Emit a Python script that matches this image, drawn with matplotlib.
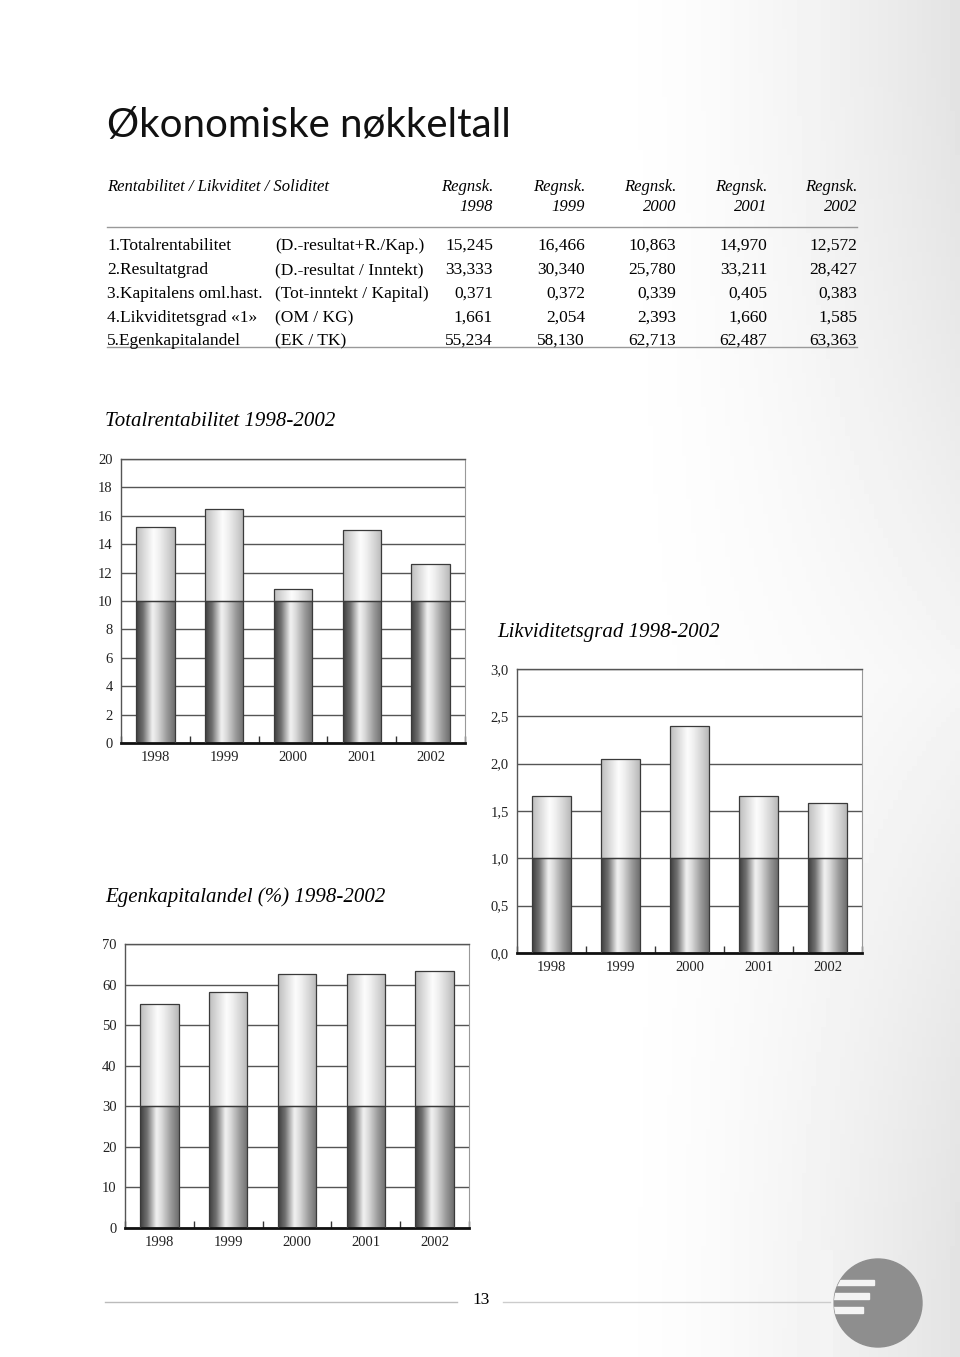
import numpy as np
import matplotlib.pyplot as plt
from matplotlib.colors import LinearSegmentedColormap
from matplotlib.patches import Circle, Rectangle

plt.rcParams['font.family'] = ['Liberation Serif', 'DejaVu Serif']

W, H = 960, 1357

years = ["1998", "1999", "2000", "2001", "2002"]
row_names = ["1.Totalrentabilitet", "2.Resultatgrad", "3.Kapitalens oml.hast.",
             "4.Likviditetsgrad «1»", "5.Egenkapitalandel"]
row_formulas = ["(D.-resultat+R./Kap.)", "(D.-resultat / Inntekt)",
                "(Tot-inntekt / Kapital)", "(OM / KG)", "(EK / TK)"]
totalrent = [15.245, 16.466, 10.863, 14.970, 12.572]
resultatgrad = [33.333, 30.340, 25.780, 33.211, 28.427]
kap_oml = [0.371, 0.372, 0.339, 0.405, 0.383]
likviditet = [1.661, 2.054, 2.393, 1.660, 1.585]
egenkap = [55.234, 58.130, 62.713, 62.487, 63.363]
table_rows = [totalrent, resultatgrad, kap_oml, likviditet, egenkap]

dark_cmap = LinearSegmentedColormap.from_list("dark", [
    (0.0, "#3e3e3e"), (0.18, "#707070"), (0.42, "#f2f2f2"),
    (0.55, "#dcdcdc"), (0.8, "#9a9a9a"), (1.0, "#6e6e6e")])
light_cmap = LinearSegmentedColormap.from_list("light", [
    (0.0, "#bdbdbd"), (0.2, "#dadada"), (0.45, "#fdfdfd"),
    (0.6, "#f0f0f0"), (0.85, "#d0d0d0"), (1.0, "#b8b8b8")])

fig = plt.figure(figsize=(W / 100, H / 100), dpi=100)

# page background / text layer in pixel coordinates
bg = fig.add_axes([0, 0, 1, 1], zorder=-10)
bg.set_xlim(0, W)
bg.set_ylim(H, 0)
bg.axis('off')
gx = np.linspace(0, 1, 200)
gy = np.linspace(0, 1, 280)
fx = np.clip((gx - 0.62) / 0.38, 0, 1) ** 1.6
fy = 0.35 + 0.65 * np.abs(np.cos(gy * np.pi))
shade_bg = 1 - 0.11 * np.outer(fy, fx)
bg.imshow(shade_bg, cmap='gray', vmin=0, vmax=1, extent=[0, W, H, 0], aspect='auto')

bg.text(107, 137, "Økonomiske nøkkeltall", fontsize=29, family=['Lato', 'DejaVu Sans'],
        va='baseline', ha='left', color='#111')

col_x = [493, 585, 676, 767, 857]
bg.text(107, 187, "Rentabilitet / Likviditet / Soliditet", fontsize=12, style='italic',
        va='center', ha='left')
for cx, yr in zip(col_x, years):
    bg.text(cx, 187, "Regnsk.", fontsize=12, style='italic', va='center', ha='right')
    bg.text(cx, 207, yr, fontsize=12, style='italic', va='center', ha='right')
bg.plot([107, 857], [227, 227], color='#999', lw=1)
row_y = [246, 270, 294, 318, 341]
for ry, name, form, vals in zip(row_y, row_names, row_formulas, table_rows):
    bg.text(107, ry, name, fontsize=12.5, va='center', ha='left')
    bg.text(275, ry, form, fontsize=12.5, va='center', ha='left')
    for cx, v in zip(col_x, vals):
        bg.text(cx, ry, f"{v:.3f}".replace(".", ","), fontsize=12.5, va='center', ha='right')
bg.plot([107, 857], [347, 347], color='#999', lw=1)

bg.text(105, 421, "Totalrentabilitet 1998-2002", fontsize=15, style='italic', va='center')
bg.text(497, 632, "Likviditetsgrad 1998-2002", fontsize=15, style='italic', va='center')
bg.text(105, 897, "Egenkapitalandel (%) 1998-2002", fontsize=15, style='italic', va='center')

# footer
bg.plot([105, 457], [1302, 1302], color='#bbb', lw=1)
bg.plot([503, 830], [1302, 1302], color='#ccc', lw=1)
bg.text(481, 1300, "13", fontsize=12.5, ha='center', va='center')
logo = Circle((878, 1303), 44, color='#8e8e8e')
bg.add_patch(logo)
cut = Rectangle((820, 1250), 12, 110, color='#f4f4f4')
bg.add_patch(cut)
for yy, hh in [(1280, 5), (1293, 6), (1307, 6)]:
    r = Rectangle((826, yy), 48 - (yy - 1280) * 0.4, hh, color='#f4f4f4')
    r.set_clip_path(logo)
    bg.add_patch(r)


def shade(ax, patch, cmap):
    x0, y0, x1, y1 = patch.get_bbox().extents
    if y1 - y0 <= 0:
        return
    grad = np.linspace(0, 1, 128).reshape(1, -1)
    im = ax.imshow(grad, cmap=cmap, extent=[x0, x1, y0, y1], aspect='auto',
                   zorder=2.5, interpolation='bicubic')
    im.set_clip_path(patch)


def bar_chart(box, values, split, ymax, step, fmt):
    left, top, right, bottom = box
    ax = fig.add_axes([left / W, 1 - bottom / H, (right - left) / W, (bottom - top) / H])
    x = np.arange(len(years))
    vals = np.array(values)
    low = np.minimum(vals, split)
    high = vals - low
    b1 = ax.bar(x, low, 0.56, color='none', edgecolor='#3a3a3a', lw=0.9, zorder=3)
    b2 = ax.bar(x, high, 0.56, bottom=low, color='none', edgecolor='#3a3a3a', lw=0.9, zorder=3)
    for p in b1:
        shade(ax, p, dark_cmap)
    for p in b2:
        shade(ax, p, light_cmap)
    ax.set_xlim(-0.5, len(years) - 0.5)
    ax.set_ylim(0, ymax)
    ticks = np.arange(0, ymax + step / 2, step)
    ax.set_yticks(ticks)
    ax.set_yticklabels([fmt(t) for t in ticks])
    ax.set_xticks(x)
    ax.set_xticklabels(years)
    ax.set_xticks(np.arange(-0.5, len(years), 1), minor=True)
    ax.yaxis.grid(True, color='#555', lw=1)
    ax.set_axisbelow(True)
    ax.tick_params(axis='both', which='major', length=0, labelsize=10.5, colors='#222')
    ax.tick_params(axis='y', pad=6)
    ax.tick_params(axis='x', pad=6)
    ax.tick_params(axis='x', which='minor', direction='in', length=5, width=1, color='#333')
    for s in ['left', 'top']:
        ax.spines[s].set_color('#555')
        ax.spines[s].set_linewidth(1)
    ax.spines['right'].set_color('#999')
    ax.spines['right'].set_linewidth(0.8)
    ax.spines['bottom'].set_color('#111')
    ax.spines['bottom'].set_linewidth(2)
    ax.set_facecolor('white')
    return ax


bar_chart((121, 459, 465, 743), totalrent, 10, 20, 2, lambda t: f"{t:.0f}")
bar_chart((517, 669, 862, 953), likviditet, 1.0, 3.0, 0.5, lambda t: f"{t:.1f}".replace(".", ","))
bar_chart((125, 944, 469, 1228), egenkap, 30, 70, 10, lambda t: f"{t:.0f}")

fig.savefig("out.png", dpi=100)
